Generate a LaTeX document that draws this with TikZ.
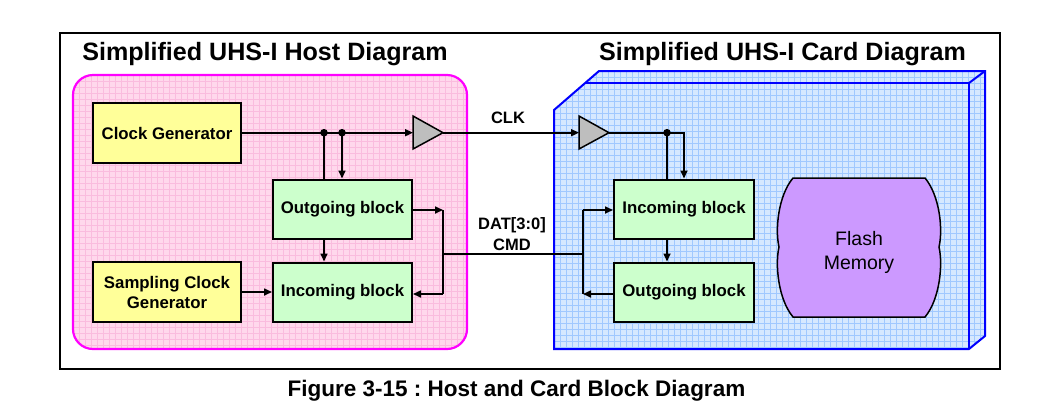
\documentclass[tikz,border=0pt]{standalone}
\usepackage{fontspec}
\setmainfont{Liberation Sans}
\usetikzlibrary{arrows.meta}
\frenchspacing
\definecolor{pinkfill}{RGB}{255,216,236}
\definecolor{pinkgrid}{RGB}{250,188,222}
\definecolor{pinkedge}{RGB}{255,0,255}
\definecolor{bluefill}{RGB}{214,232,255}
\definecolor{bluegrid}{RGB}{160,200,255}
\definecolor{blueedge}{RGB}{0,0,255}
\definecolor{yel}{RGB}{255,255,153}
\definecolor{grn}{RGB}{204,255,204}
\definecolor{purp}{RGB}{204,153,255}
\definecolor{bufgray}{RGB}{190,190,190}
\tikzset{
  blockfont/.style={font=\fontsize{16.8}{20}\selectfont\bfseries},
  yblock/.style={draw, line width=2pt, fill=yel, minimum width=148pt, minimum height=60pt, align=center, blockfont, inner sep=0pt},
  gblock/.style={draw, line width=2pt, fill=grn, minimum width=139pt, minimum height=59pt, align=center, blockfont, inner sep=0pt},
  conn/.style={line width=1.6pt},
  arr/.style={conn, -{Triangle[length=8pt,width=7pt]}},
  buffer/.style={draw, line width=1.5pt, fill=bufgray, line join=miter},
  sig/.style={font=\fontsize{16.5}{20}\selectfont\bfseries, inner sep=0pt},
  ttl/.style={font=\fontsize{25.1}{30}\selectfont\bfseries, inner sep=0pt, anchor=base},
  dot/.style={fill=black}
}
\begin{document}
\begin{tikzpicture}[x=1pt,y=-1pt]
\useasboundingbox (0,0) rectangle (1054,416);
% outer frame
\draw[line width=1.5pt] (60,33) rectangle (1000,369);
% host region
\fill[pinkfill, rounded corners=20pt] (73,75) rectangle (467,349);
\begin{scope}
  \clip[rounded corners=20pt] (73,75) rectangle (467,349);
  \foreach \x in {73,79,...,467} \draw[pinkgrid, line width=0.4pt] (\x,75) -- (\x,349);
  \foreach \y in {75,81,...,349} \draw[pinkgrid, line width=0.4pt] (73,\y) -- (467,\y);
\end{scope}
\draw[pinkedge, line width=2.2pt, rounded corners=20pt] (73,75) rectangle (467,349);
% card region
\fill[bluefill] (554,349) -- (554,110) -- (599,71) -- (985,71) -- (985,336) -- (969,349) -- cycle;
\begin{scope}
  \clip (554,349) -- (554,110) -- (599,71) -- (985,71) -- (985,336) -- (969,349) -- cycle;
  \foreach \x in {554,560,...,985} \draw[bluegrid, line width=0.4pt] (\x,71) -- (\x,349);
  \foreach \y in {71,77,...,349} \draw[bluegrid, line width=0.4pt] (554,\y) -- (985,\y);
\end{scope}
\draw[blueedge, line width=2pt, line join=miter] (554,349) -- (554,110) -- (599,71) -- (985,71) -- (985,336) -- (969,349) -- cycle;
\draw[blueedge, line width=2pt, line join=miter] (585.5,83) -- (969,83) -- (969,349);
\draw[blueedge, line width=2pt] (969,83) -- (985,71);
% titles
\node[ttl] (hosttitle) at (265,60) {Simplified UHS-I Host Diagram};
\node[ttl] (cardtitle) at (782.5,60) {Simplified UHS-I Card Diagram};
% host blocks
\node[yblock] (cg) at (167,133) {Clock Generator};
\node[yblock] (scg) at (167,292) {Sampling Clock\\Generator};
\node[gblock] (hout) at (342.5,209) {Outgoing block};
\node[gblock] (hin) at (342.5,292) {Incoming block};
% card blocks
\node[gblock, minimum width=140pt] (cin) at (684,209) {Incoming block};
\node[gblock, minimum width=140pt] (cout) at (684,292) {Outgoing block};
% buffers
\draw[buffer] (413,116) -- (443,132.7) -- (413,149) -- cycle;
\coordinate (hbin) at (413,132.7);
\coordinate (hbout) at (443,132.7);
\draw[buffer] (579,116) -- (609,132.7) -- (579,149) -- cycle;
\coordinate (cbin) at (579,132.7);
\coordinate (cbout) at (609,132.7);
% host clock wiring
\coordinate (d1) at (324,132.7);
\coordinate (d2) at (342,132.7);
\draw[arr] (cg.east |- hbin) -- (hbin);
\draw[conn] (d1) -- (d1 |- hout.north);
\draw[arr] (d2) -- (d2 |- hout.north);
\fill[dot] (d1) circle (3.8pt);
\fill[dot] (d2) circle (3.8pt);
\draw[arr] (hout.south -| d1) -- (hin.north -| d1);
\draw[arr] (scg.east) -- (hin.west);
% host data wiring
\coordinate (hj) at (443,254);
\coordinate (hj1) at (443,210);
\coordinate (hj2) at (443,294);
\draw[arr] (hout.east |- hj1) -- (hj1);
\draw[conn] (hj1) -- (hj2);
\draw[arr] (hj2) -- (hin.east |- hj2);
% CLK line
\draw[arr] (hbout) -- (cbin);
\node[sig] (clk) at (508,118) {CLK};
% DAT line
\coordinate (cj) at (583,254);
\coordinate (cj1) at (583,210);
\coordinate (cj2) at (583,294);
\draw[conn] (hj) -- (cj);
\node[sig] (dat) at (512,225) {DAT[3:0]};
\node[sig] (cmd) at (512,245) {CMD};
\draw[conn] (cj1) -- (cj2);
\draw[arr] (cj1) -- (cin.west |- cj1);
\draw[arr] (cout.west |- cj2) -- (cj2);
% card clock wiring
\coordinate (d3) at (667,132.7);
\coordinate (c4) at (684,132.7);
\draw[conn] (cbout) -- (d3);
\draw[conn] (d3) -- (d3 |- cin.north);
\draw[arr] (d3) -- (c4) -- (c4 |- cin.north);
\fill[dot] (d3) circle (3.8pt);
\draw[arr] (cin.south -| d3) -- (cout.north -| d3);
% flash memory
\draw[line width=1.5pt, fill=purp] (793,178) -- (925,178)
  .. controls (940,196) and (943,230) .. (939,247)
  .. controls (943,264) and (940,299) .. (925,317)
  -- (793,317)
  .. controls (778,299) and (775,264) .. (779,247)
  .. controls (775,230) and (778,196) .. (793,178) -- cycle;
\node[font=\fontsize{19.5}{24}\selectfont, anchor=base, inner sep=0pt] (flash1) at (859,245) {Flash};
\node[font=\fontsize{19.5}{24}\selectfont, anchor=base, inner sep=0pt] (flash2) at (859,269) {Memory};
% caption
\node[font=\fontsize{22.5}{27}\selectfont\bfseries, anchor=base, inner sep=0pt] (caption) at (516.5,396) {Figure 3-15 : Host and Card Block Diagram};
\end{tikzpicture}
\end{document}
